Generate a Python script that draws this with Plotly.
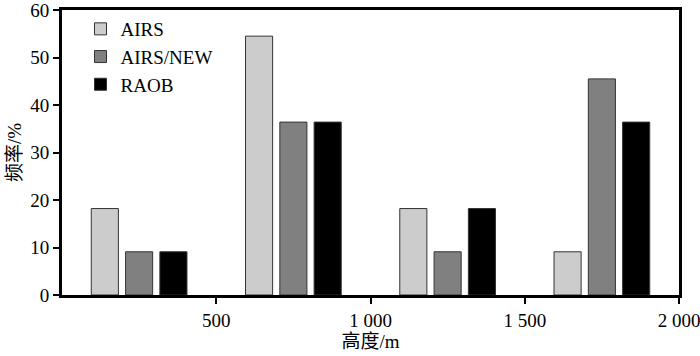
import plotly.graph_objects as go

heights = [250, 750, 1250, 1750]
airs = [18.2, 54.5, 18.2, 9.1]
airs_new = [9.1, 36.4, 9.1, 45.5]
raob = [9.1, 36.4, 18.2, 36.4]
x_tickvals = [500, 1000, 1500, 2000]
x_ticktext = ["500", "1 000", "1 500", "2 000"]
y_tickvals = [0, 10, 20, 30, 40, 50, 60]

font_family = "Liberation Serif, Times New Roman, Noto Sans CJK SC, serif"

fig = go.Figure()
for name, vals, col in [("AIRS", airs, "#cccccc"), ("AIRS/NEW", airs_new, "#808080"), ("RAOB", raob, "#000000")]:
    fig.add_trace(go.Bar(x=heights, y=vals, name=name,
                         marker=dict(color=col, line=dict(color="#333333", width=1))))

fig.update_layout(
    width=700, height=356,
    margin=dict(l=62, r=21, t=10, b=61),
    paper_bgcolor="white", plot_bgcolor="white",
    barmode="group", bargap=0.333, bargroupgap=0.21,
    font=dict(family=font_family, size=19, color="black"),
    showlegend=True,
    legend=dict(x=0.03, y=1.0, xanchor="left", yanchor="top",
                bgcolor="rgba(0,0,0,0)", font=dict(size=19, family=font_family),
                itemwidth=30, tracegroupgap=0),
    xaxis=dict(range=[0, 2000], tickvals=x_tickvals, ticktext=x_ticktext, automargin=False,
               ticklabeloverflow="allow",
               showgrid=False, zeroline=False, showline=True, linecolor="black", linewidth=3,
               mirror=True, ticks="outside", ticklen=6, tickwidth=2, tickcolor="black",
               title=dict(text="高度/m", standoff=2, font=dict(size=19))),
    yaxis=dict(range=[0, 60], tickvals=y_tickvals, automargin=False,
               ticklabeloverflow="allow",
               showgrid=False, zeroline=False, showline=True, linecolor="black", linewidth=3,
               mirror=True, ticks="outside", ticklen=6, tickwidth=2, tickcolor="black",
               title=dict(text="频率/%", standoff=4, font=dict(size=19))),
)
fig.write_html("out.html", config={"displayModeBar": False},
               post_script="document.body.style.margin='0';document.body.style.overflow='hidden';")
